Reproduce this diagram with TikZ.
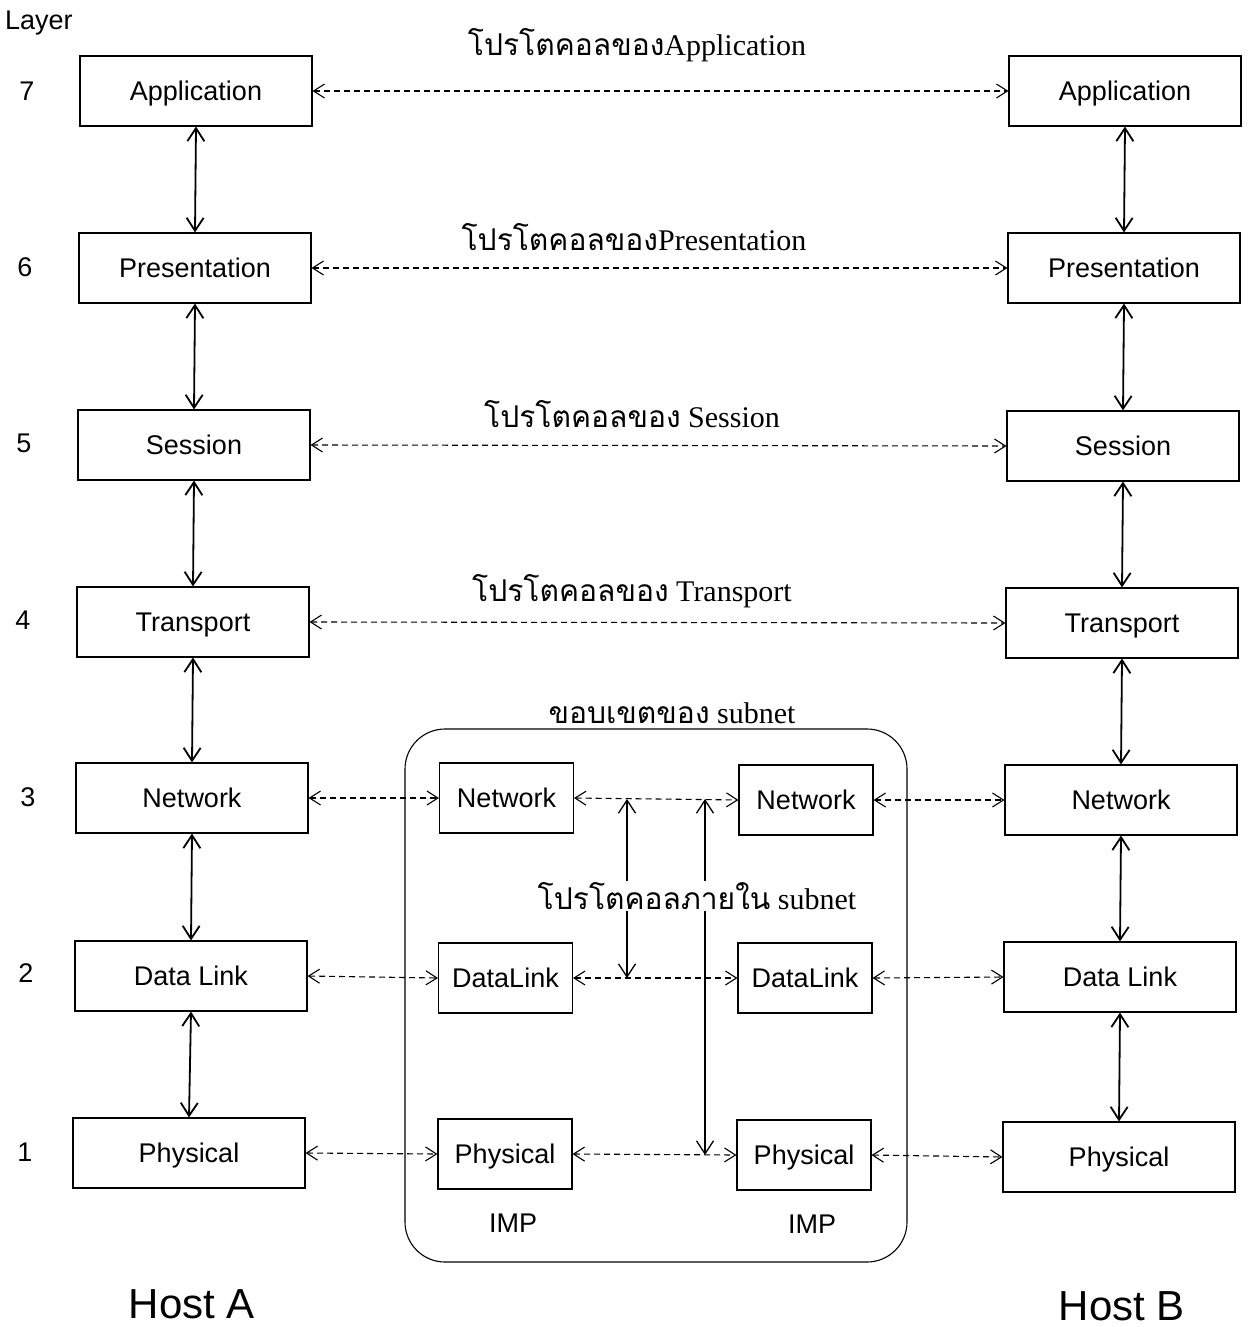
\documentclass[tikz,border=0pt]{standalone}
\usepackage{fontspec}
\setmainfont{Liberation Serif}
\newfontfamily\arial{Liberation Sans}
\newfontfamily\thaifont[Script=Thai]{Loma}
\usetikzlibrary{arrows.meta}

\begin{document}
\begin{tikzpicture}[x=1pt,y=-1pt,
  layerbox/.style={draw, line width=1.1pt, minimum width=232pt, minimum height=70pt,
    inner sep=0pt, text height=19.5pt, text depth=0pt,
    font=\arial\fontsize{27}{30}\selectfont},
  impbox/.style={layerbox, minimum width=134pt},
  sans/.style={font=\arial\fontsize{27}{30}\selectfont, inner sep=0pt,
    text height=19.5pt, text depth=0pt},
  peer/.style={line width=1.1pt, dash pattern=on 6pt off 4pt,
    {Straight Barb[length=11pt,width=14pt]}-{Straight Barb[length=11pt,width=14pt]}},
  stack/.style={line width=1.8pt,
    {Straight Barb[length=13pt,width=17pt]}-{Straight Barb[length=13pt,width=17pt]}},
  thailabel/.style={font=\fontsize{30}{32}\selectfont, inner sep=1pt},
  hostname/.style={font=\arial\fontsize{42}{46}\selectfont, inner sep=0pt,
    text height=30pt, text depth=0pt},
]
\useasboundingbox (0,0) rectangle (1251,1327);

% layer numbers
\node[sans, anchor=west] (layer) at (5,20) {Layer};
\node[sans] (n7) at (27,91) {7};
\node[sans] (n6) at (25,267) {6};
\node[sans] (n5) at (24,443) {5};
\node[sans] (n4) at (23,620) {4};
\node[sans] (n3) at (28,797) {3};
\node[sans] (n2) at (26,973) {2};
\node[sans] (n1) at (25,1152) {1};

% host A stack
\node[layerbox] (a7) at (196,91)   {Application};
\node[layerbox] (a6) at (195,268)  {Presentation};
\node[layerbox] (a5) at (194,445)  {Session};
\node[layerbox] (a4) at (193,622)  {Transport};
\node[layerbox] (a3) at (192,798)  {Network};
\node[layerbox] (a2) at (191,976)  {Data Link};
\node[layerbox] (a1) at (189,1153) {Physical};

% host B stack
\node[layerbox] (b7) at (1125,91)   {Application};
\node[layerbox] (b6) at (1124,268)  {Presentation};
\node[layerbox] (b5) at (1123,446)  {Session};
\node[layerbox] (b4) at (1122,623)  {Transport};
\node[layerbox] (b3) at (1121,800)  {Network};
\node[layerbox] (b2) at (1120,977)  {Data Link};
\node[layerbox] (b1) at (1119,1157) {Physical};

% subnet boundary
\node[draw, line width=1.1pt, rounded corners=40pt, minimum width=502pt,
  minimum height=533pt, inner sep=0pt] (subnet) at (656,995.5) {};
\node[thailabel] (subl) at (672,713) {{\thaifont ขอบเขตของ} subnet};

% IMP stacks
\node[impbox] (l3) at (506.5,798)  {Network};
\node[impbox] (l2) at (505.5,978)  {DataLink};
\node[impbox] (l1) at (505,1154)   {Physical};
\node[impbox] (r3) at (806,800)    {Network};
\node[impbox] (r2) at (805,978)    {DataLink};
\node[impbox] (r1) at (804,1155)   {Physical};
\node[sans] (imp1) at (513,1223) {IMP};
\node[sans] (imp2) at (812,1224) {IMP};

% vertical interfaces
\foreach \u/\l in {7/6,6/5,5/4,4/3,3/2,2/1} {
  \draw[stack] (a\u.south) -- (a\l.north);
  \draw[stack] (b\u.south) -- (b\l.north);
}

% peer protocols between hosts
\foreach \i in {7,6,5,4} {
  \draw[peer] (a\i.east) -- (b\i.west);
}
\node[thailabel] (p7) at (637,45)  {{\thaifont โปรโตคอลของ}Application};
\node[thailabel] (p6) at (634,237) {{\thaifont โปรโตคอลของ}Presentation};
\node[thailabel] (p5) at (632,414) {{\thaifont โปรโตคอลของ} Session};
\node[thailabel] (p4) at (632,591) {{\thaifont โปรโตคอลของ} Transport};

% links through the subnet
\foreach \i in {3,2,1} {
  \draw[peer] (a\i.east) -- (l\i.west);
  \draw[peer] (l\i.east) -- (r\i.west);
  \draw[peer] (r\i.east) -- (b\i.west);
}

% protocol inside the subnet
\coordinate (s1t) at (627,799);
\coordinate (s1b) at (627,978);
\coordinate (s2t) at (705,799);
\coordinate (s2b) at (705,1155);
\draw[stack, line width=1.3pt] (s1t) -- (s1b);
\draw[stack, line width=1.3pt] (s2t) -- (s2b);
\node[thailabel, fill=white] (inner) at (697,896) {{\thaifont โปรโตคอลภายใน} subnet};

% host names
\node[hostname] (hosta) at (192,1303) {Host A};
\node[hostname] (hostb) at (1122,1305) {Host B};
\end{tikzpicture}
\end{document}
